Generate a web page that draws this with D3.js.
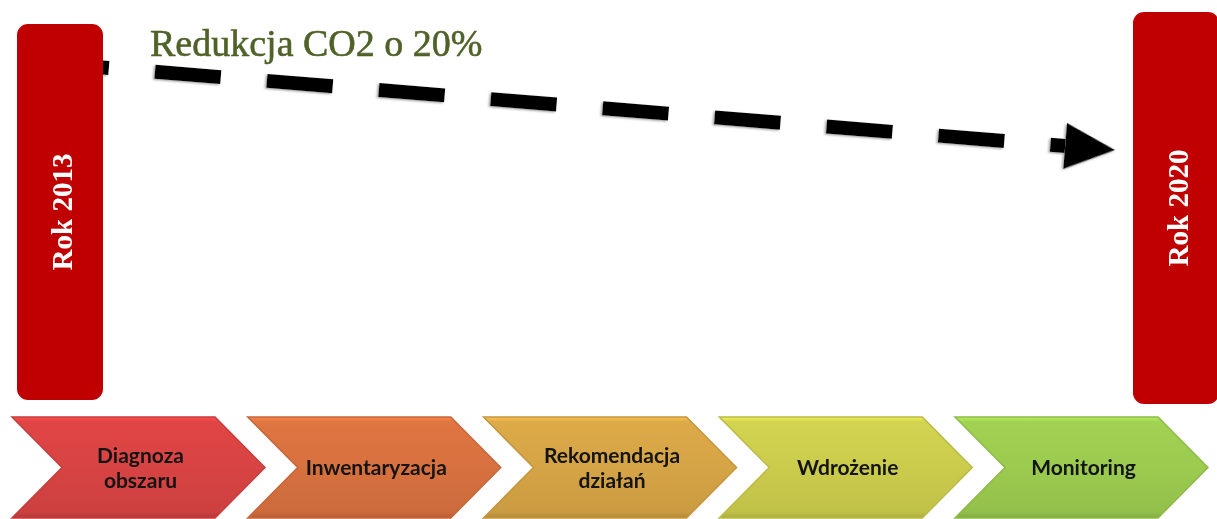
<!DOCTYPE html>
<html>
<head>
<meta charset="utf-8">
<script src="https://cdn.jsdelivr.net/npm/d3@7"></script>
<style>
    body { margin: 0; background: #ffffff; }
    svg { display: block; }
</style>
</head>
<body>
<script>
    /* Chart data */
    const years = [2013, 2020]
    const yearLabels = ["Rok 2013", "Rok 2020"]
    const goalLabel = "Redukcja CO2 o 20%"
    const steps = ["Diagnoza obszaru", "Inwentaryzacja", "Rekomendacja działań", "Wdrożenie", "Monitoring"]
    const stepLines = [["Diagnoza", "obszaru"], ["Inwentaryzacja"], ["Rekomendacja", "działań"], ["Wdrożenie"], ["Monitoring"]]
    const stepColors = ["#d84343", "#d7713f", "#d5a445", "#cbcc4c", "#9bcb4f"]

    const svgWidth = 1217
    const svgHeight = 519

    const svg = d3.select("body").append("svg")
    svg.attr("width", svgWidth)
    svg.attr("height", svgHeight)

    const defs = svg.append("defs")

    /* Year scale: places the two year bars */
    const yearScale = d3.scaleLinear()
                        .domain([d3.min(years), d3.max(years)])
                        .range([60, 1176])

    const barWidth = 86
    const barTop = d3.scaleOrdinal().domain(years).range([24, 12])
    const barBottom = d3.scaleOrdinal().domain(years).range([400, 404])

    /* Dashed arrow, drawn before the bars so the left bar covers its start */
    const arrowY = d3.scaleLinear()
                        .domain([d3.min(years), d3.max(years)])
                        .range([64, 155])

    const x0 = yearScale(2013)
    const y0 = arrowY(2013)
    const tipX = 1115
    const tipY = arrowY(2013) + (tipX - x0) * (arrowY(2020) - arrowY(2013)) / (yearScale(2020) - yearScale(2013))
    const angle = Math.atan2(tipY - y0, tipX - x0)
    const headLength = 50
    const headHalf = 23
    const shaftEndX = tipX - headLength * Math.cos(angle)
    const shaftEndY = tipY - headLength * Math.sin(angle)

    const shadow = defs.append("filter")
                        .attr("id", "dash-shadow")
                        .attr("x", "-10%").attr("y", "-50%")
                        .attr("width", "120%").attr("height", "200%")
    shadow.append("feDropShadow")
            .attr("dx", -1.5)
            .attr("dy", 1)
            .attr("stdDeviation", 0.8)
            .attr("flood-color", "#888888")
            .attr("flood-opacity", 0.8)

    const arrow = svg.append("g").attr("filter", "url(#dash-shadow)")

    arrow.append("line")
            .attr("x1", x0)
            .attr("y1", y0)
            .attr("x2", shaftEndX)
            .attr("y2", shaftEndY)
            .attr("stroke", "#000000")
            .attr("stroke-width", 14)
            .attr("stroke-dasharray", "66 46.3")
            .attr("stroke-dashoffset", 17)

    arrow.append("path")
            .attr("d", `M0,0 L${-headLength},${-headHalf} L${-headLength},${headHalf} Z`)
            .attr("transform", `translate(${tipX}, ${tipY}) rotate(${angle * 180 / Math.PI})`)
            .attr("fill", "#000000")

    /* Year bars */
    svg.selectAll(".year-bar")
        .data(years)
        .enter()
        .append("rect")
        .attr("class", "year-bar")
        .attr("x", (d) => yearScale(d) - barWidth / 2)
        .attr("y", (d) => barTop(d))
        .attr("width", barWidth)
        .attr("height", (d) => barBottom(d) - barTop(d))
        .attr("rx", 11)
        .attr("fill", "#c00000")

    svg.selectAll(".year-label")
        .data(years)
        .enter()
        .append("text")
        .attr("class", "year-label")
        .attr("transform", (d) => `translate(${yearScale(d) + 2}, ${(barTop(d) + barBottom(d)) / 2}) rotate(-90)`)
        .attr("text-anchor", "middle")
        .attr("dy", "0.35em")
        .attr("font-family", "Liberation Serif, serif")
        .attr("font-weight", "bold")
        .attr("font-size", 29)
        .attr("fill", "#ffffff")
        .text((d, i) => yearLabels[i])

    /* Goal title */
    svg.append("text")
        .attr("x", 150)
        .attr("y", 56)
        .attr("font-family", "Liberation Serif, serif")
        .attr("font-size", 38)
        .attr("fill", "#4f6228")
        .attr("stroke", "#4f6228")
        .attr("stroke-width", 0.6)
        .text(goalLabel)

    /* Process chevrons */
    const stepScale = d3.scalePoint()
                        .domain(steps)
                        .range([12, 955])

    const chevronWidth = 253
    const chevronTop = 417
    const chevronHeight = 101
    const chevronDepth = 50

    steps.forEach((s, i) => {
        const base = d3.color(stepColors[i])
        const grad = defs.append("linearGradient")
                            .attr("id", `grad-${i}`)
                            .attr("x1", 0).attr("y1", 0)
                            .attr("x2", 0).attr("y2", 1)
        grad.append("stop").attr("offset", "0%").attr("stop-color", base.brighter(0.45))
        grad.append("stop").attr("offset", "5%").attr("stop-color", base.brighter(0.1))
        grad.append("stop").attr("offset", "50%").attr("stop-color", base)
        grad.append("stop").attr("offset", "94%").attr("stop-color", base.darker(0.15))
        grad.append("stop").attr("offset", "100%").attr("stop-color", base.darker(0.5))
    })

    const chevronPath = (x) => {
        const t = chevronTop
        const b = chevronTop + chevronHeight
        const m = chevronTop + chevronHeight / 2
        return `M${x},${t} L${x + chevronWidth - chevronDepth},${t} L${x + chevronWidth},${m} ` +
               `L${x + chevronWidth - chevronDepth},${b} L${x},${b} L${x + chevronDepth},${m} Z`
    }

    const chevrons = svg.selectAll(".step")
                        .data(steps)
                        .enter()
                        .append("g")
                        .attr("class", "step")

    chevrons.append("path")
            .attr("d", (d) => chevronPath(stepScale(d)))
            .attr("fill", (d, i) => `url(#grad-${i})`)
            .attr("stroke", (d, i) => d3.color(stepColors[i]).darker(0.25))
            .attr("stroke-width", 1.5)

    chevrons.append("text")
            .attr("x", (d) => stepScale(d) + chevronWidth / 2 + 2)
            .attr("y", chevronTop + chevronHeight / 2)
            .attr("text-anchor", "middle")
            .attr("font-family", "Lato, sans-serif")
            .attr("font-weight", "bold")
            .attr("font-size", 21)
            .attr("fill", "#141414")
            .each(function (d, i) {
                const lines = stepLines[i]
                const lineHeight = 25
                const start = -(lines.length - 1) * lineHeight / 2
                lines.forEach((line, j) => {
                    d3.select(this).append("tspan")
                        .attr("x", stepScale(d) + chevronWidth / 2 + 2)
                        .attr("dy", j === 0 ? start + 7.5 : lineHeight)
                        .text(line)
                })
            })
</script>
</body>
</html>
